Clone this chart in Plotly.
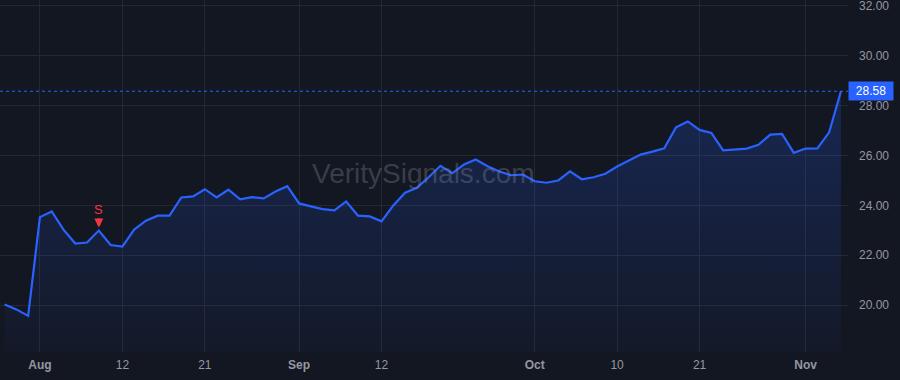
import plotly.graph_objects as go

dates = [
    "2024-07-29", "2024-07-30", "2024-07-31", "2024-08-01", "2024-08-02",
    "2024-08-05", "2024-08-06", "2024-08-07", "2024-08-08", "2024-08-09",
    "2024-08-12", "2024-08-13", "2024-08-14", "2024-08-15", "2024-08-16",
    "2024-08-19", "2024-08-20", "2024-08-21", "2024-08-22", "2024-08-23",
    "2024-08-26", "2024-08-27", "2024-08-28", "2024-08-29", "2024-08-30",
    "2024-09-03", "2024-09-04", "2024-09-05", "2024-09-06", "2024-09-09",
    "2024-09-10", "2024-09-11", "2024-09-12", "2024-09-13", "2024-09-16",
    "2024-09-17", "2024-09-18", "2024-09-19", "2024-09-20", "2024-09-23",
    "2024-09-24", "2024-09-25", "2024-09-26", "2024-09-27", "2024-09-30",
    "2024-10-01", "2024-10-02", "2024-10-03", "2024-10-04", "2024-10-07",
    "2024-10-08", "2024-10-09", "2024-10-10", "2024-10-11", "2024-10-14",
    "2024-10-15", "2024-10-16", "2024-10-17", "2024-10-18", "2024-10-21",
    "2024-10-22", "2024-10-23", "2024-10-24", "2024-10-25", "2024-10-28",
    "2024-10-29", "2024-10-30", "2024-10-31", "2024-11-01", "2024-11-04",
    "2024-11-05", "2024-11-06",
]

prices = [
    20.03, 19.83, 19.57, 23.53, 23.76, 23.03, 22.47, 22.51, 22.99, 22.41,
    22.35, 23.03, 23.39, 23.59, 23.59, 24.32, 24.36, 24.65, 24.32, 24.63,
    24.24, 24.33, 24.28, 24.56, 24.77, 24.08, 23.96, 23.85, 23.80, 24.16,
    23.59, 23.56, 23.36, 24.00, 24.51, 24.71, 25.13, 25.59, 25.29, 25.64,
    25.84, 25.57, 25.36, 25.21, 25.24, 24.97, 24.91, 25.00, 25.37, 25.05,
    25.13, 25.27, 25.56, 25.80, 26.04, 26.16, 26.29, 27.13, 27.37, 27.03,
    26.91, 26.21, 26.25, 26.28, 26.43, 26.84, 26.87, 26.11, 26.28, 26.29,
    26.93, 28.58,
]

tick_dates = ["2024-08-01", "2024-08-12", "2024-08-21", "2024-09-03", "2024-09-12",
              "2024-10-01", "2024-10-10", "2024-10-21", "2024-11-01"]
tick_labels = ["<b>Aug</b>", "12", "21", "<b>Sep</b>", "12",
               "<b>Oct</b>", "10", "21", "<b>Nov</b>"]

y_ticks = [20, 22, 24, 26, 28, 30, 32]

signal_date = "2024-08-08"
signal_label = "S"
watermark = "VeritySignals.com"

BG = "#131722"
GRID = "#242833"
BLUE = "#2962ff"
RED = "#f23645"
TEXT = "#9598a1"

last_price = prices[-1]
signal_price = prices[dates.index(signal_date)]

fig = go.Figure()
fig.add_trace(go.Scatter(
    x=dates, y=prices, mode="lines",
    line=dict(color=BLUE, width=2.2),
    fill="tozeroy",
    fillgradient=dict(
        type="vertical",
        colorscale=[[0, "rgba(41,98,255,0.03)"], [1, "rgba(41,98,255,0.22)"]],
        start=18.1, stop=last_price,
    ),
    hoverinfo="skip",
    showlegend=False,
))

fig.add_shape(type="line", xref="paper", x0=0, x1=1, yref="y",
              y0=last_price, y1=last_price,
              line=dict(color=BLUE, width=1, dash="dot"))

fig.add_annotation(xref="paper", x=1, xanchor="left", yref="y", y=last_price,
                   text=f"{last_price:.2f}", showarrow=False,
                   bgcolor=BLUE, font=dict(color="white", size=12, family="Liberation Sans"),
                   borderpad=2, xshift=0, width=40, align="center")

fig.add_annotation(x=signal_date, y=signal_price, text=signal_label,
                   showarrow=True, ax=0, ay=-21, arrowhead=2, arrowsize=0.6,
                   arrowwidth=3, arrowcolor=RED, standoff=3,
                   font=dict(color=RED, size=13, family="Liberation Sans"))

fig.add_annotation(xref="paper", yref="paper", x=0.499, y=0.508,
                   text=watermark, showarrow=False,
                   font=dict(color="rgba(130,134,148,0.36)", size=28, family="Liberation Sans"))

fig.update_layout(
    width=900, height=380,
    margin=dict(l=0, r=52, t=0, b=28),
    paper_bgcolor=BG, plot_bgcolor=BG,
    font=dict(family="Liberation Sans", color=TEXT, size=12),
    xaxis=dict(type="category", range=[-0.39, 71.6],
               tickvals=tick_dates, ticktext=tick_labels,
               showgrid=True, gridcolor=GRID, gridwidth=1,
               zeroline=False, showline=False, ticks="",
               tickfont=dict(size=12, color=TEXT), ticklabelstandoff=4),
    yaxis=dict(side="right", range=[18.12, 32.24], tickvals=y_ticks,
               tickformat=".2f", showgrid=True, gridcolor=GRID, gridwidth=1,
               zeroline=False, showline=False, ticks="",
               ticklabeloverflow="allow",
               tickfont=dict(size=12, color=TEXT), ticklabelstandoff=10),
)

fig.write_html("out.html")
